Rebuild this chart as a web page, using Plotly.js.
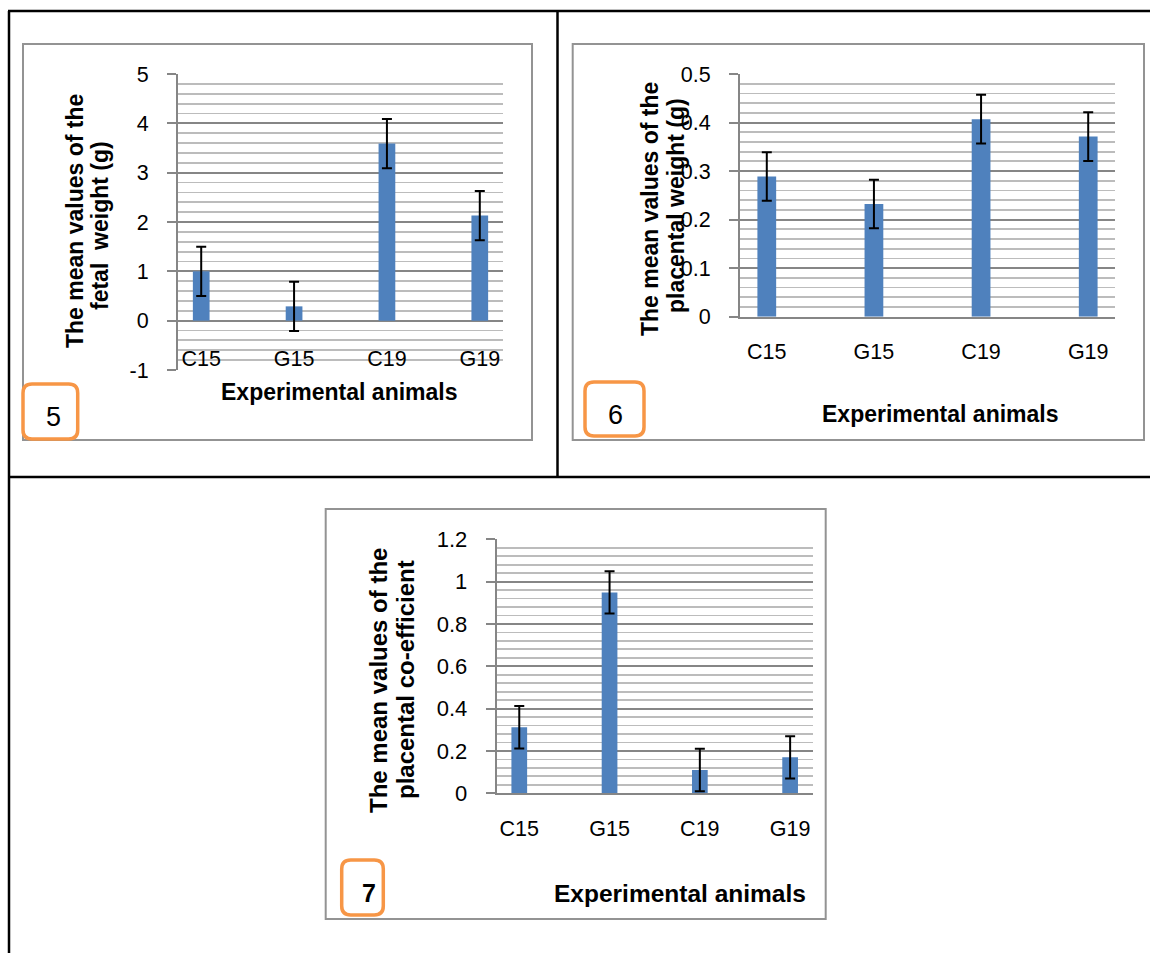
<!DOCTYPE html>
<html><head><meta charset="utf-8">
<script src="https://cdn.plot.ly/plotly-3.0.1.min.js"></script>
<style>html,body{margin:0;padding:0;background:#fff;overflow:hidden}#chart{width:1150px;height:953px}</style>
</head><body><div id="chart"></div>
<script>
// ---- data ----
const categories = ['C15', 'G15', 'C19', 'G19'];
const fetalWeight = [1.00, 0.29, 3.59, 2.13];
const fetalWeightErr = [0.5, 0.5, 0.5, 0.5];
const placentalWeight = [0.289, 0.232, 0.407, 0.371];
const placentalWeightErr = [0.05, 0.05, 0.05, 0.05];
const placentalCoef = [0.312, 0.949, 0.110, 0.170];
const placentalCoefErr = [0.1, 0.1, 0.1, 0.1];
const fetalTickVals = [-1, 0, 1, 2, 3, 4, 5];
const fetalTickText = ['-1', '0', '1', '2', '3', '4', '5'];
const xTitle = 'Experimental animals';
const yTitle5 = ['The mean values of the', 'fetal&nbsp; weight (g)'];
const yTitle6 = ['The mean values of the', 'placental weight (g)'];
const yTitle7 = ['The mean values of the', 'placental co-efficient'];
const panelLabels = ['5', '6', '7'];

// ---- helpers ----
const W = 1150, H = 953;
const PX = x => x / W;
const PY = y => 1 - y / H;
const FONT = 'Liberation Sans, Arial, sans-serif';
const BAR = '#4F81BD';
const MAJOR = '#868686', MINOR = '#bcbcbc';

function bar(y, err, xa, ya, width) {
  return {
    type: 'bar', x: categories, y: y, xaxis: xa, yaxis: ya, width: width,
    marker: {color: BAR, line: {width: 0}},
    error_y: {type: 'data', array: err, visible: true, color: '#000', thickness: 2, width: 5},
    hoverinfo: 'skip'
  };
}
function yaxis(anchor, domain, range, dtick, minor, fs, extra) {
  return Object.assign({
    anchor: anchor, domain: domain, range: range, dtick: dtick, tick0: 0,
    showgrid: true, gridcolor: MAJOR, gridwidth: 2,
    minor: {dtick: minor, showgrid: true, gridcolor: MINOR, gridwidth: 1.8, ticks: ''},
    showline: true, linecolor: MAJOR, linewidth: 2,
    ticks: 'outside', ticklen: 9, tickwidth: 2, tickcolor: MAJOR,
    tickfont: {family: FONT, size: fs, color: '#000'}, ticklabelstandoff: 14,
    zeroline: false, fixedrange: true
  }, extra || {});
}
function xaxis(anchor, domain, fs, extra) {
  return Object.assign({
    anchor: anchor, domain: domain, type: 'category', range: [-0.25, 3.25],
    showgrid: false, zeroline: false, showline: true, linecolor: MAJOR, linewidth: 2,
    ticks: '', tickfont: {family: FONT, size: fs, color: '#000'}, fixedrange: true
  }, extra || {});
}
function line(x0, y0, x1, y1, color, w) {
  return {type: 'line', xref: 'paper', yref: 'paper', x0: PX(x0), y0: PY(y0), x1: PX(x1), y1: PY(y1),
    line: {color: color, width: w}};
}
function rect(x0, y0, x1, y1, color, w) {
  return {type: 'rect', xref: 'paper', yref: 'paper', x0: PX(x0), y0: PY(y0), x1: PX(x1), y1: PY(y1),
    line: {color: color, width: w}, fillcolor: 'rgba(0,0,0,0)', layer: 'below'};
}
function rrect(x0, y0, x1, y1, r, color, w) {
  const p = (x, y) => PX(x) + ',' + PY(y);
  const d = 'M' + p(x0 + r, y0) + ' L' + p(x1 - r, y0) + ' Q' + p(x1, y0) + ' ' + p(x1, y0 + r) +
    ' L' + p(x1, y1 - r) + ' Q' + p(x1, y1) + ' ' + p(x1 - r, y1) +
    ' L' + p(x0 + r, y1) + ' Q' + p(x0, y1) + ' ' + p(x0, y1 - r) +
    ' L' + p(x0, y0 + r) + ' Q' + p(x0, y0) + ' ' + p(x0 + r, y0) + ' Z';
  return {type: 'path', xref: 'paper', yref: 'paper', path: d, line: {color: color, width: w}, fillcolor: 'white'};
}
function ann(text, x, y, size, bold, angle) {
  return {text: bold ? '<b>' + text + '</b>' : text, xref: 'paper', yref: 'paper', x: PX(x), y: PY(y),
    xanchor: 'center', yanchor: 'middle', showarrow: false, textangle: angle || 0,
    font: {family: FONT, size: size, color: '#000'}};
}

const data = [
  bar(fetalWeight, fetalWeightErr, 'x', 'y', 0.18),
  bar(placentalWeight, placentalWeightErr, 'x2', 'y2', 0.175),
  bar(placentalCoef, placentalCoefErr, 'x3', 'y3', 0.174)
];

const layout = {
  width: W, height: H, margin: {l: 0, r: 0, t: 0, b: 0},
  paper_bgcolor: '#fff', plot_bgcolor: 'rgba(0,0,0,0)', showlegend: false,
  // chart 5: category labels sit inside the plot (Excel "low" style), so the axis floats
  xaxis: xaxis('free', [PX(178), PX(503)], 21.5, {position: PY(343), showline: false, ticklabelstandoff: 0}),
  yaxis: yaxis('x', [PY(370), PY(74)], [-1, 5], 1, 0.2, 21.5,
    {tickmode: 'array', tickvals: fetalTickVals, ticktext: fetalTickText, zeroline: true, zerolinecolor: MAJOR, zerolinewidth: 2}),
  xaxis2: xaxis('y2', [PX(740), PX(1115)], 21.5, {ticklabelstandoff: 14}),
  yaxis2: yaxis('x2', [PY(316.7), PY(74)], [0, 0.5], 0.1, 0.02, 21.5),
  xaxis3: xaxis('y3', [PX(496.7), PX(812.7)], 21.5, {ticklabelstandoff: 15}),
  yaxis3: yaxis('x3', [PY(793.3), PY(539.3)], [0, 1.2], 0.2, 0.04, 22),
  shapes: [
    // table lines
    line(8, 11, 1150, 11, '#000', 2.5),
    line(9, 11, 9, 953, '#000', 2.5),
    line(557.5, 11, 557.5, 477, '#000', 2.5),
    line(9, 477, 1150, 477, '#000', 2.5),
    // chart frames
    rect(23, 44, 532, 440, '#939393', 2),
    rect(572.7, 44, 1144, 440, '#939393', 2),
    rect(325.7, 509, 825.7, 919, '#939393', 2),
    // orange label boxes
    rrect(23, 384, 77.7, 439, 9, '#F79646', 3.5),
    rrect(585, 382, 644, 436, 9, '#F79646', 3.5),
    rrect(341.7, 860, 383.3, 915, 9, '#F79646', 3.5)
  ],
  annotations: [
    ann(xTitle, 339.5, 392, 23, true),
    ann(xTitle, 940, 414, 23, true),
    ann(xTitle, 680, 893, 24.5, true),
    ann(yTitle5[0], 75, 221, 23, true, -90),
    ann(yTitle5[1], 100, 226, 23, true, -90),
    ann(yTitle6[0], 650, 209, 23, true, -90),
    ann(yTitle6[1], 676, 206, 23, true, -90),
    ann(yTitle7[0], 378, 681, 24, true, -90),
    ann(yTitle7[1], 405, 680, 24, true, -90),
    ann(panelLabels[0], 53, 417, 27, false),
    ann(panelLabels[1], 616, 414.5, 27, false),
    ann(panelLabels[2], 369, 893, 25, true)
  ]
};

Plotly.newPlot('chart', data, layout, {displayModeBar: false, staticPlot: true});
</script>
</body></html>
